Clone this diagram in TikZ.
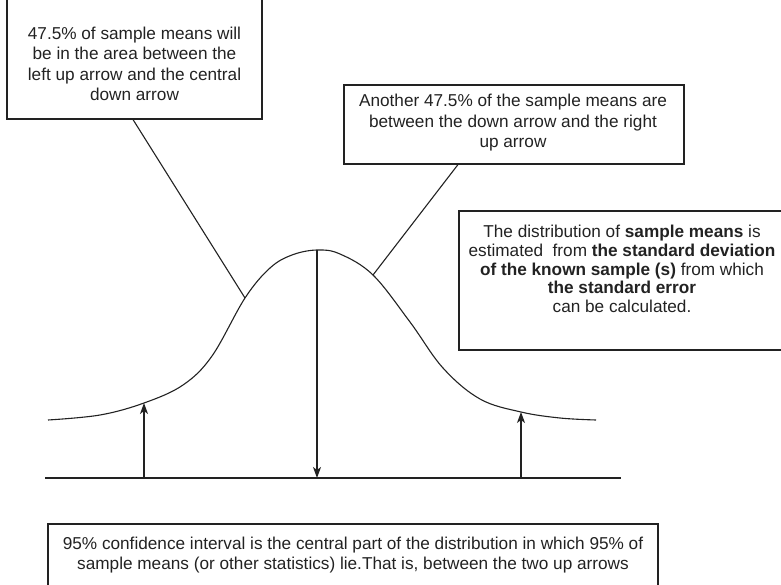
\documentclass[tikz,border=0pt]{standalone}
\usepackage{fontspec}
\setmainfont{Liberation Sans}
\usetikzlibrary{arrows.meta}
\definecolor{ink}{HTML}{222222}

\begin{document}
\begin{tikzpicture}[x=1pt, y=-1pt, line width=1.1pt, draw=ink,
    every node/.style={font=\fontsize{17.2}{20.5}\selectfont, text=ink},
    frame/.style={draw, rectangle, inner sep=0pt},
    note/.style={align=center, inner sep=0pt},
    upar/.style={-{Stealth[length=11pt, width=8pt, inset=3pt]}}]
    \useasboundingbox (0,0) rectangle (781,585);
    \clip (0,0) rectangle (781,585);

    \node[frame, minimum width=255, minimum height=121] (box1) at (134.5, 58.5) {};
    \node[note] (txt1) at (134.5, 64) {47.5\% of sample means will\\be in the area between the\\left up arrow and the central\\down arrow};
    \node[frame, minimum width=340, minimum height=79] (box2) at (514, 124.5) {};
    \node[note] (txt2) at (513, 123) {Another 47.5\% of the sample means are\\between the down arrow and the right\\up arrow};
    \node[frame, minimum width=326, minimum height=139] (box3) at (622, 280.5) {};
    \node[note, font=\fontsize{17.2}{18.8}\selectfont] (txt3) at (622, 269) {The distribution of \textbf{sample means} is\\estimated\ \ from \textbf{the standard deviation}\\\textbf{of the known sample (s)} from which\\\textbf{the standard error}\\can be calculated.};
    \node[frame, minimum width=610, minimum height=76] (box4) at (353, 562) {};
    \node[note] (txt4) at (353, 555) {95\% confidence interval is the central part of the distribution in which 95\% of\\sample means (or other statistics) lie.That is, between the two up arrows};

    \coordinate (base0) at (45, 478);
    \coordinate (base1) at (621, 478);
    \coordinate (pk) at (317, 250);
    \coordinate (tl) at (144, 403);
    \coordinate (tr) at (521, 412);
    \coordinate (l1) at (245, 298);
    \coordinate (l2) at (373, 275);

    \draw plot[smooth, tension=0.6] coordinates {(48,420) (100,415) (tl) (183,385) (212,356) (l1) (270,268) (292,255) (pk) (340,254) (l2) (410,322) (443,368) (480,399) (tr) (560,418) (596,420)};
    \draw (base0) -- (base1);

    \draw[upar] (tl |- base0) -- (tl);
    \draw[upar] (tr |- base0) -- (tr);
    \draw[upar] (pk) -- (pk |- base0);

    \draw ([xshift=-1.5]box1.south) -- (l1);
    \draw ([xshift=-56]box2.south) -- (l2);
\end{tikzpicture}
\end{document}
